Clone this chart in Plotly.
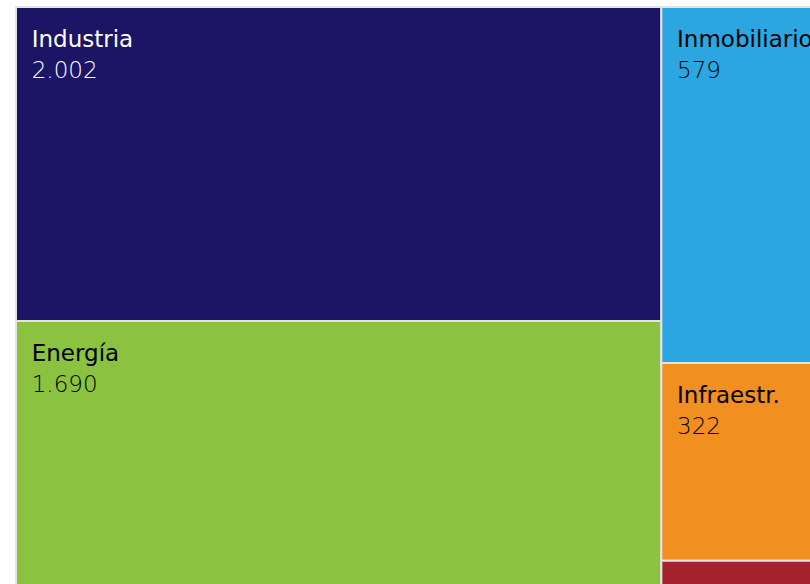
import plotly.graph_objects as go

# Sector breakdown shown as a treemap
labels = ["Industria", "Energía", "Inmobiliario", "Infraestr.", "Otros"]
values = [2002, 1690, 579, 322, 41]
colors = ["#1C1464", "#8BC240", "#2BA6E0", "#F18F20", "#A5232E"]
text_colors = ["#FFFFFF", "#000000", "#000000", "#000000", "#000000"]

# a wide blank glyph in front of each line insets the text from the tile corner
inset = "<span style='font-size:40px'>\u00a0</span>"
templates = [
    inset + "<span style='font-size:23px'>%{label}</span><br>"
    + inset + "<span style='font-size:23px;font-weight:200'>%{value:,}</span>"
    for _ in labels
]
templates[-1] = ""

fig = go.Figure(
    go.Treemap(
        labels=labels,
        parents=[""] * len(labels),
        values=values,
        sort=False,
        tiling=dict(squarifyratio=1.618, pad=0),
        marker=dict(colors=colors, line=dict(color="#E3E3E3", width=2), pad=dict(t=0, l=0, r=0, b=0)),
        texttemplate=templates,
        textposition="top left",
        textfont=dict(family="DejaVu Sans", size=24, color=text_colors),
        hoverinfo="label+value",
        root=dict(color="white"),
        pathbar=dict(visible=False),
    )
)

fig.update_layout(
    width=826,
    height=586,
    margin=dict(l=16, r=0, t=7, b=0),
    paper_bgcolor="white",
    separators=",.",
    showlegend=False,
)

fig.write_html("out.html")
